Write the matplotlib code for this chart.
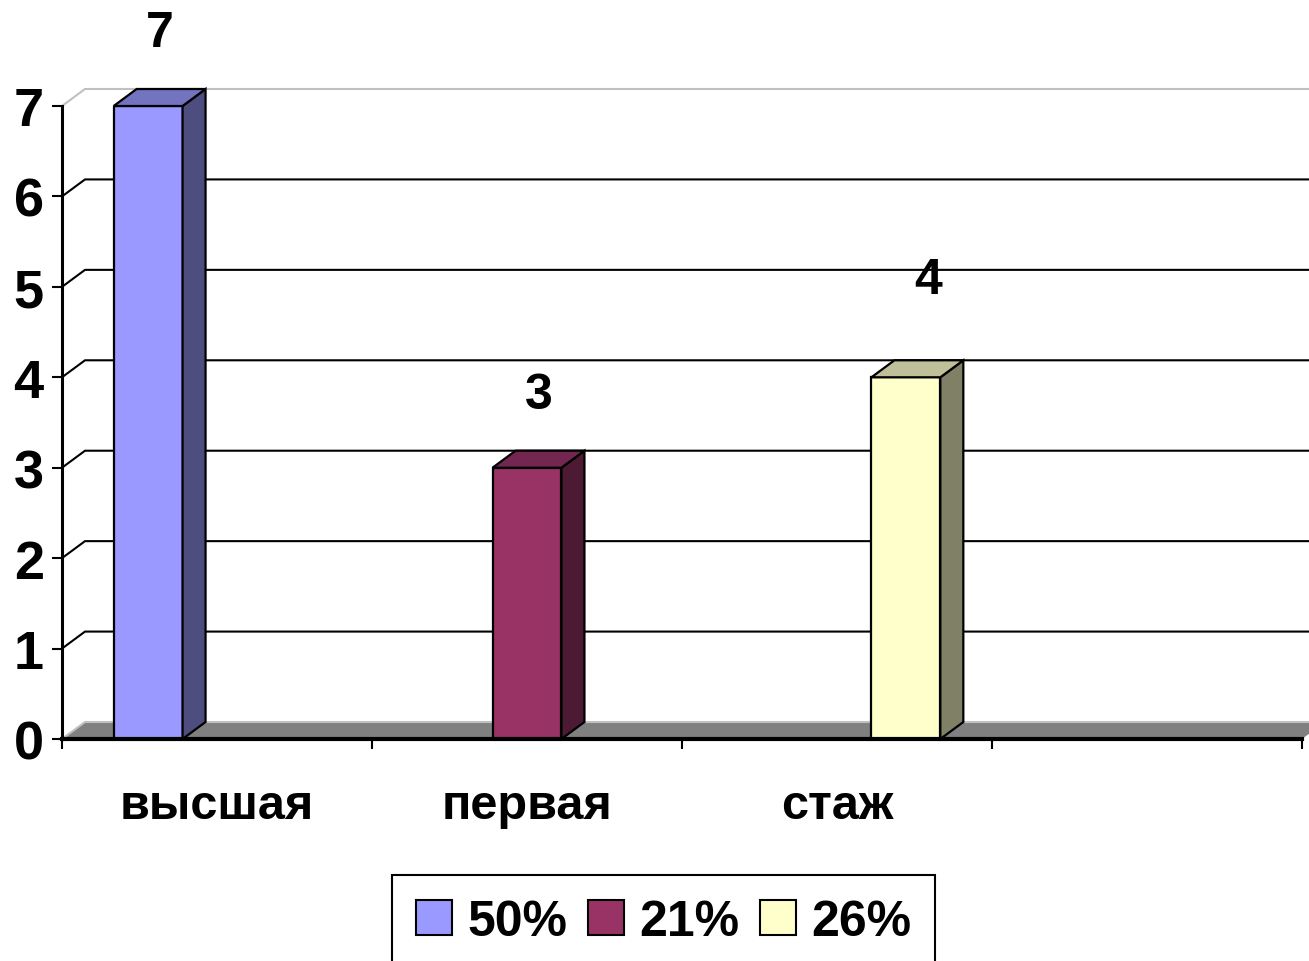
import matplotlib
matplotlib.use("Agg")
import matplotlib.pyplot as plt
from matplotlib.patches import Polygon, Patch
from matplotlib import transforms

# Data
categories = ["высшая", "первая", "стаж", ""]
series_names = ["50%", "21%", "26%"]
series_values = [
    [7, 0, 0, 0],
    [0, 3, 0, 0],
    [0, 0, 4, 0],
]
y_ticks = [0, 1, 2, 3, 4, 5, 6, 7]

# Colours (front, side, top) of each series, Excel 2003 style
front_colors = ["#9999FF", "#993366", "#FFFFCC"]
side_colors = ["#4D4D80", "#4D1A33", "#808066"]
top_colors = ["#7373BF", "#732650", "#BFBF99"]

plt.rcParams["font.family"] = ["Liberation Sans", "DejaVu Sans"]
plt.rcParams["font.weight"] = "bold"

W, H, DPI = 1309, 962, 100
fig = plt.figure(figsize=(W / DPI, H / DPI), dpi=DPI)
# plot area: x from 62 to 1302 px, y (0..7) from 740 to 107 px
ax = fig.add_axes([62 / W, (H - 740) / H, 1240 / W, 633 / H])
ax.set_xlim(0, len(categories))
ax.set_ylim(0, max(y_ticks))

# 3D depth expressed in data units (23 px right, 17 px up)
dx = 23 / (1240 / len(categories))
dy = 17 / (633 / max(y_ticks))

# floor
floor = Polygon([(0, 0), (len(categories), 0), (len(categories) + dx, dy), (dx, dy)],
                closed=True, facecolor="#808080", edgecolor="none", zorder=1, clip_on=False)
ax.add_patch(floor)
ax.plot([0, dx, len(categories) + dx], [0, dy, dy], color="#C0C0C0", lw=1.5,
        zorder=1.5, clip_on=False)

# gridlines on the back wall
for v in y_ticks[1:]:
    c = "black" if v < max(y_ticks) else "#C0C0C0"
    ax.plot([0, dx, len(categories) + dx], [v, v + dy, v + dy], color=c, lw=1.5,
            zorder=1, clip_on=False)

# bars: clustered, gap width 150%
n = len(series_names)
bw = 1 / (n + 1.5)
label_shift = [(0, 0), (0, 0), (11, 24)]  # px, the "4" label was moved in the original
for s in range(n):
    for i, val in enumerate(series_values[s]):
        if val == 0:
            continue
        x0 = i + 0.5 + (s - (n - 1) / 2) * bw - bw / 2
        x1 = x0 + bw
        ax.bar(x0, val, width=bw, align="edge", color=front_colors[s],
               edgecolor="black", linewidth=1.6, zorder=3)
        side = Polygon([(x1, 0), (x1 + dx, dy), (x1 + dx, val + dy), (x1, val)],
                       closed=True, facecolor=side_colors[s], edgecolor="black",
                       linewidth=1.6, zorder=3, clip_on=False)
        top = Polygon([(x0, val), (x0 + dx, val + dy), (x1 + dx, val + dy), (x1, val)],
                      closed=True, facecolor=top_colors[s], edgecolor="black",
                      linewidth=1.6, zorder=3, clip_on=False)
        ax.add_patch(side)
        ax.add_patch(top)
        sx, sy = label_shift[s]
        off = transforms.offset_copy(ax.transData, fig=fig, x=sx * 72 / DPI,
                                     y=(43 + sy) * 72 / DPI, units="points")
        ax.text((x0 + x1 + dx) / 2, val + dy, str(val), transform=off,
                ha="center", va="baseline", fontsize=36, fontweight="bold", zorder=5)

# axes styling
for side_name in ["top", "right"]:
    ax.spines[side_name].set_visible(False)
ax.spines["left"].set_linewidth(2.2)
ax.spines["bottom"].set_linewidth(3)
ax.spines["left"].set_zorder(4)
ax.spines["bottom"].set_zorder(4)
ax.set_yticks(y_ticks)
ax.set_yticklabels([str(v) for v in y_ticks])
ax.tick_params(axis="y", direction="out", length=7.2, width=1.5, pad=6,
               labelsize=39)
ax.set_xticks(range(len(categories) + 1))
ax.set_xticklabels([])
ax.tick_params(axis="x", direction="out", length=7.2, width=1.5)
for lab in ax.get_yticklabels():
    lab.set_fontweight("bold")

lab_tr = transforms.blended_transform_factory(ax.transData, ax.transAxes)
for i, cat in enumerate(categories):
    ax.text(i + 0.5, -(819 - 740) / 633, cat, transform=lab_tr, ha="center",
            va="baseline", fontsize=35, fontweight="bold")

# legend (its bottom edge runs off the picture, as in the original)
handles = [Patch(facecolor=front_colors[s], edgecolor="black", linewidth=1.5)
           for s in range(n)]
leg = fig.legend(handles, series_names, loc="upper left",
                 bbox_to_anchor=(392 / W, 1 - 876 / H), borderaxespad=0, ncol=3,
                 handlelength=0.72, handleheight=0.72,
                 handletextpad=0.3, columnspacing=0.42, borderpad=0.48,
                 fancybox=False, framealpha=1, edgecolor="black",
                 prop={"weight": "bold", "size": 36})
leg.get_frame().set_linewidth(1.5)

fig.savefig("out.png", dpi=DPI)
